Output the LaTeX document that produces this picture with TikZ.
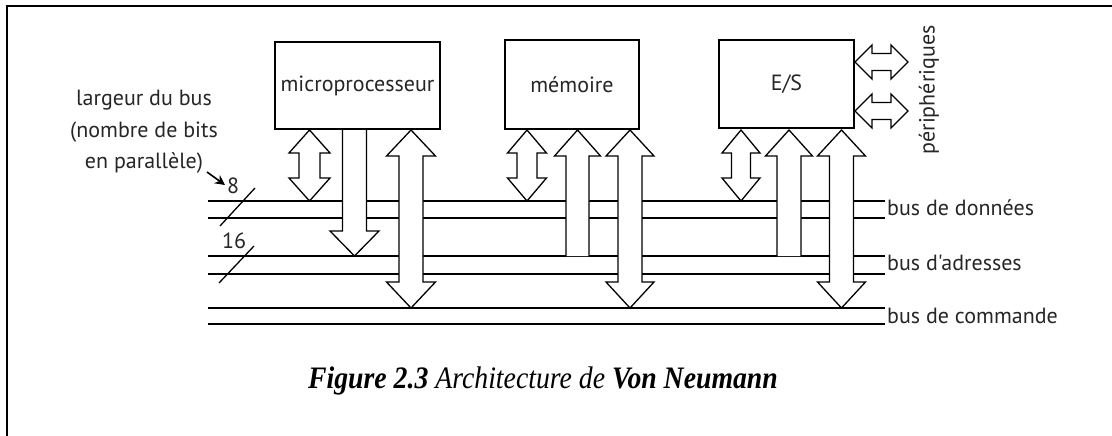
\documentclass[tikz,border=0pt]{standalone}
\usepackage{fontspec}
\setmainfont{PT Sans}[Ligatures=TeXOff]
\newfontfamily\capfont{Liberation Serif}
\usetikzlibrary{arrows.meta}
\newcommand\BAdbl[6]{% cx, ytop, ybot, shaft half, head half, head length
  \filldraw[blk] (#1,#2) -- ({#1+#5},{#2+#6}) -- ({#1+#4},{#2+#6}) -- ({#1+#4},{#3-#6}) -- ({#1+#5},{#3-#6}) -- (#1,#3) -- ({#1-#5},{#3-#6}) -- ({#1-#4},{#3-#6}) -- ({#1-#4},{#2+#6}) -- ({#1-#5},{#2+#6}) -- cycle;}
\newcommand\BAup[6]{% tip at top, open bottom
  \fill[white] (#1,#2) -- ({#1+#5},{#2+#6}) -- ({#1+#4},{#2+#6}) -- ({#1+#4},{#3-1.5}) -- ({#1-#4},{#3-1.5}) -- ({#1-#4},{#2+#6}) -- ({#1-#5},{#2+#6}) -- cycle;
  \draw[blk] ({#1-#4},#3) -- ({#1-#4},{#2+#6}) -- ({#1-#5},{#2+#6}) -- (#1,#2) -- ({#1+#5},{#2+#6}) -- ({#1+#4},{#2+#6}) -- ({#1+#4},#3);}
\newcommand\BAdown[6]{% open top, tip at bottom
  \fill[white] ({#1-#4},#2) -- ({#1-#4},{#3-#6}) -- ({#1-#5},{#3-#6}) -- (#1,#3) -- ({#1+#5},{#3-#6}) -- ({#1+#4},{#3-#6}) -- ({#1+#4},#2) -- cycle;
  \draw[blk] ({#1-#4},#2) -- ({#1-#4},{#3-#6}) -- ({#1-#5},{#3-#6}) -- (#1,#3) -- ({#1+#5},{#3-#6}) -- ({#1+#4},{#3-#6}) -- ({#1+#4},#2);}
\newcommand\BAhdbl[6]{% xl, xr, cy, shaft half, head half, head length
  \filldraw[blk] (#1,#3) -- ({#1+#6},{#3-#5}) -- ({#1+#6},{#3-#4}) -- ({#2-#6},{#3-#4}) -- ({#2-#6},{#3-#5}) -- (#2,#3) -- ({#2-#6},{#3+#5}) -- ({#2-#6},{#3+#4}) -- ({#1+#6},{#3+#4}) -- ({#1+#6},{#3+#5}) -- cycle;}
\begin{document}
\begin{tikzpicture}[x=1pt,y=-1pt,
  blk/.style={draw=black, fill=white, line width=1.3pt, line join=miter},
  box/.style={draw=black, line width=1.4pt, fill=white, inner sep=0pt, text=black!85,
     font=\fontsize{22}{26}\selectfont},
  lbl/.style={text=black!85, inner sep=0pt, font=\fontsize{22}{26}\selectfont},
  busline/.style={line width=1.8pt, draw=black},
  slash/.style={line width=1.3pt}]
\useasboundingbox (0,0) rectangle (1112,436);
% frame
\draw[line width=2pt] (7,436) -- (7,6) -- (1112,6);
% bus coordinates
\coordinate (d1a) at (208,201); \coordinate (d1b) at (885,201);
\coordinate (d2a) at (208,218); \coordinate (d2b) at (885,218);
\coordinate (a1a) at (208,256); \coordinate (a1b) at (885,256);
\coordinate (a2a) at (208,274); \coordinate (a2b) at (885,274);
\coordinate (c1a) at (208,308); \coordinate (c1b) at (885,308);
\coordinate (c2a) at (208,324); \coordinate (c2b) at (885,324);
\foreach \p in {d1,d2,a1,a2,c1,c2} {\draw[busline] (\p a) -- (\p b);}
% bus labels
\node[lbl, anchor=west] (bd) at (887,208) {bus de données};
\node[lbl, anchor=west] (ba) at (887,263) {bus d'adresses};
\node[lbl, anchor=west] (bc) at (887,316) {bus de commande};
% block arrows - microprocessor
\BAdbl{309.5}{130}{201}{10.5}{20.5}{23}
\BAdown{354.5}{129}{256}{12}{24.5}{25}
\BAdbl{411}{130}{308}{12}{24.5}{26}
% memory
\BAdbl{527}{130}{201}{10}{19.5}{23}
\BAup{577.5}{130}{256}{11.5}{23}{26}
\BAdbl{630}{130}{308}{12}{24}{26}
% E/S
\BAdbl{741}{130}{201}{9.5}{19}{23}
\BAup{789}{130}{256}{12}{23.5}{26}
\BAdbl{841.5}{130}{308}{12}{24}{26}
% peripherals
\BAhdbl{855}{908}{62}{8.5}{17}{17}
\BAhdbl{855}{908}{111}{8.5}{17}{17}
% boxes
\node[box, minimum width=165pt, minimum height=87pt] (micro) at (357.5,85.5) {microprocesseur};
\node[box, minimum width=134pt, minimum height=89pt] (mem) at (572,84.5) {mémoire};
\node[box, minimum width=135pt, minimum height=88pt] (es) at (786.5,84) {E/S};
\node[lbl, rotate=90] (periph) at (929,90) {périphériques};
% width labels
\node[lbl, align=center, font=\fontsize{22}{31.5}\selectfont] (width) at (144,132) {largeur du bus\\(nombre de bits\\en parallèle)};
\node[lbl] (n8) at (233,186) {8};
\node[lbl] (n16) at (234,241) {16};
\coordinate (arrS) at (207,172);
\draw[line width=1.6pt, -{Stealth[length=10pt,width=10pt]}] (arrS) -- (225,185);
\coordinate (s1a) at (220,226); \coordinate (s1b) at (255,188);
\coordinate (s2a) at (219,283); \coordinate (s2b) at (254,246);
\draw[slash] (s1a) -- (s1b);
\draw[slash] (s2a) -- (s2b);
% caption
\node[inner sep=0pt, font=\capfont\fontsize{25}{30}\selectfont] (cap) at (543,381)
  {\scalebox{1.11}[1.25]{\textbf{\textit{Figure 2.3}} \textit{Architecture de} \textbf{\textit{Von Neumann}}}};
\end{tikzpicture}
\end{document}
